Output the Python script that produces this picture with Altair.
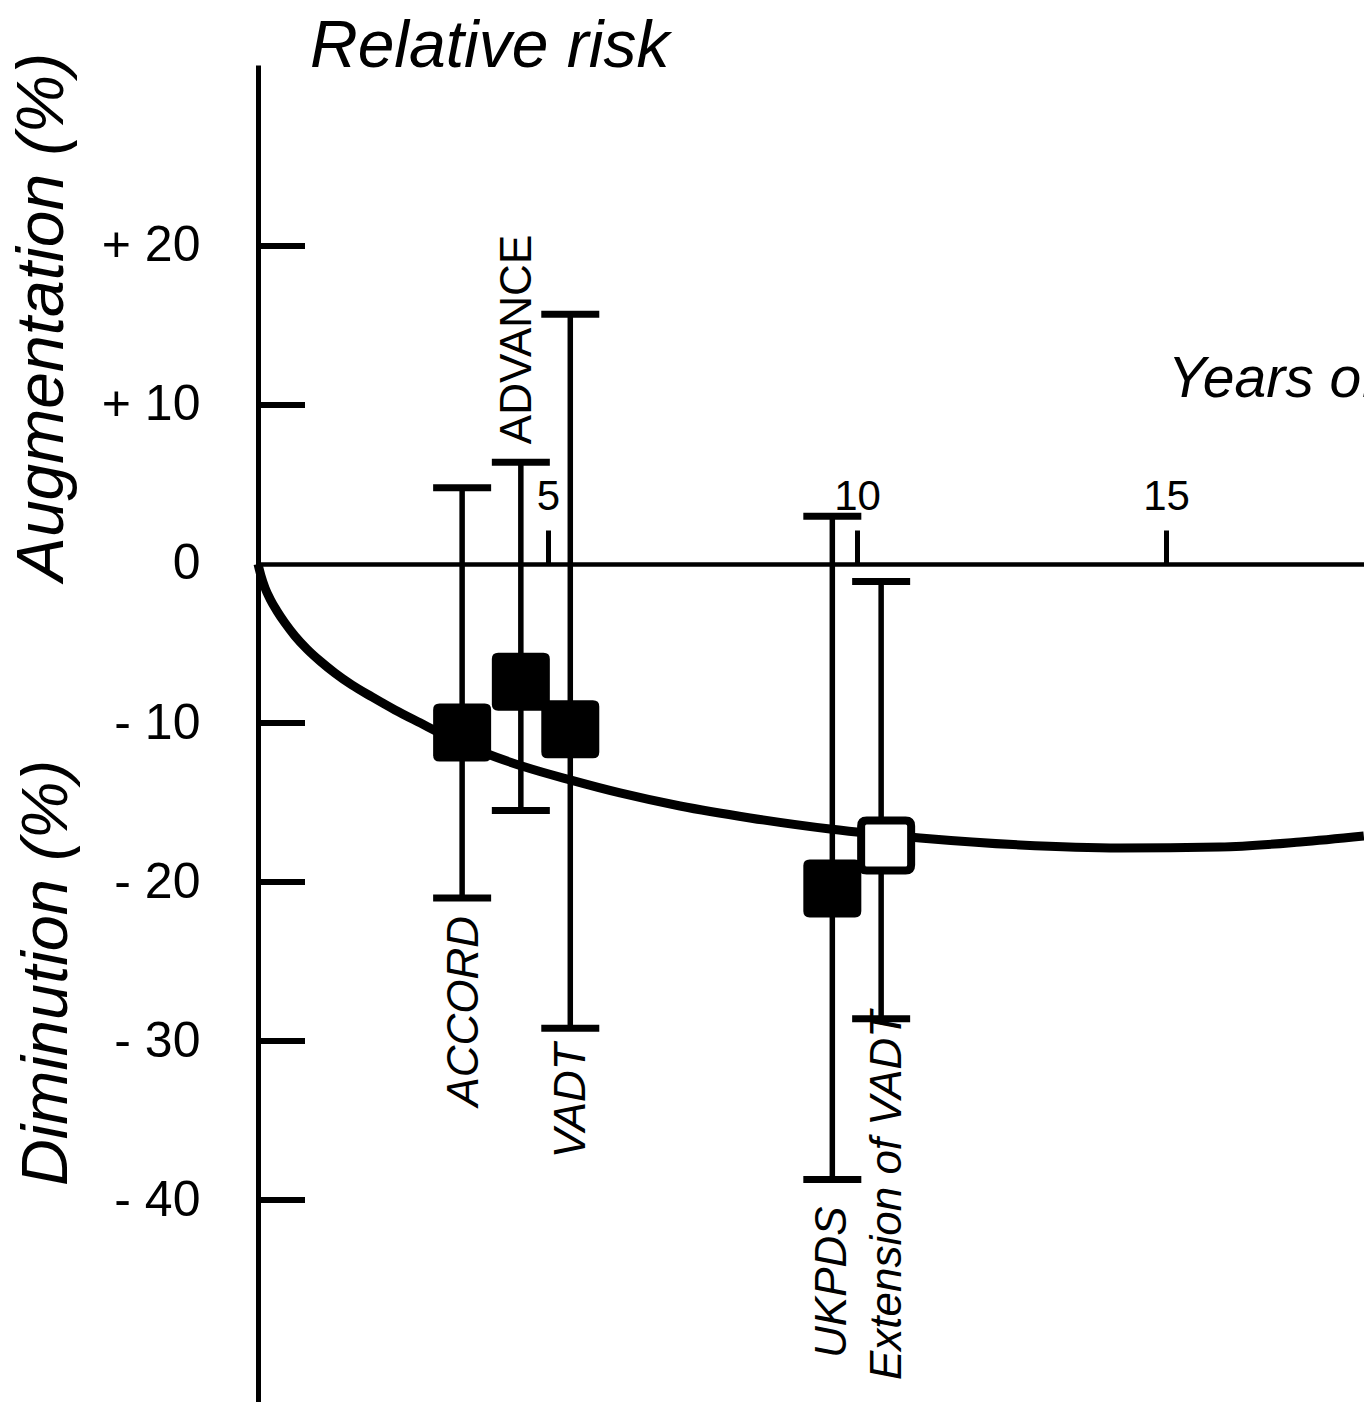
import altair as alt
import pandas as pd

# ---- data ----
studies = ["ACCORD", "ADVANCE", "VADT", "UKPDS", "Extension of VADT"]
study_years = [3.61, 4.56, 5.36, 9.60, 10.39]
rr_est = [-10.6, -7.4, -10.4, -20.4, -17.7]
rr_low = [-21.0, -15.5, -29.2, -38.7, -28.6]
rr_high = [4.8, 6.4, 15.7, 3.0, -1.1]
open_marker = [False, False, False, False, True]
label_side = ["below", "above", "below", "below", "below"]

curve_years = [0.307, 0.356, 0.421, 0.502, 0.615, 0.744, 0.906, 1.100, 1.311,
               1.553, 1.828, 2.152, 2.524, 2.929, 3.414, 3.981, 4.628, 5.356,
               6.165, 7.136, 8.269, 9.563, 11.02, 12.64, 14.26, 15.87, 17.17,
               18.20]
curve_rr = [0.0, -0.75, -1.51, -2.20, -2.96, -3.71, -4.53, -5.35, -6.10, -6.86,
            -7.61, -8.36, -9.18, -9.99, -10.94, -11.89, -12.77, -13.58, -14.40,
            -15.22, -15.97, -16.67, -17.23, -17.67, -17.86, -17.80, -17.48,
            -17.10]

y_tick_values = [20, 10, 0, -10, -20, -30, -40]
y_tick_marks = [20, 10, -10, -20, -30, -40]
x_tick_values = [5, 10, 15]

x_domain = [0.307, 18.203]
y_domain = [-52.7, 31.38]

FONT = "Liberation Sans"

studies_df = pd.DataFrame({
    "study": studies, "year": study_years, "est": rr_est,
    "lo": rr_low, "hi": rr_high, "open": open_marker, "side": label_side,
})
curve_df = pd.DataFrame({"year": curve_years, "rr": curve_rr})
ticks_df = pd.DataFrame({"v": y_tick_marks})

XS = alt.Scale(domain=x_domain, nice=False, zero=False)
YS = alt.Scale(domain=y_domain, nice=False, zero=False)

XAX = alt.Axis(orient="top", offset=-499, values=x_tick_values, tickSize=34,
               tickWidth=5, tickColor="black", domainColor="black", domainWidth=4.5,
               labelFontSize=42, labelFont=FONT, labelColor="black", labelPadding=12,
               labelFlush=False, grid=False, title=None, labelAngle=0)
YAX = alt.Axis(orient="left", values=y_tick_values, ticks=False, domainColor="black",
               domainWidth=5, labelFontSize=50, labelFont=FONT, labelColor="black",
               labelPadding=58, labelFlush=False, grid=False, title=None,
               labelExpr="datum.value > 0 ? '+ ' + datum.value : (datum.value < 0 ? '- ' + abs(datum.value) : '0')")


def X(f):
    return alt.X(f, type="quantitative", scale=XS, axis=XAX)


def Y(f):
    return alt.Y(f, type="quantitative", scale=YS, axis=YAX)


ROUNDED = ("M -0.78 -1 L 0.78 -1 Q 1 -1 1 -0.78 L 1 0.78 Q 1 1 0.78 1 "
           "L -0.78 1 Q -1 1 -1 0.78 L -1 -0.78 Q -1 -1 -0.78 -1 Z")

curve = alt.Chart(curve_df).mark_line(
    interpolate="monotone", strokeWidth=9, color="black"
).encode(x=X("year"), y=Y("rr"))

bars = alt.Chart(studies_df).mark_rule(strokeWidth=5.5, color="black").encode(
    x=X("year"), y=Y("lo"), y2="hi")

cap_lo = alt.Chart(studies_df).mark_tick(
    orient="horizontal", size=58, thickness=7, color="black", opacity=1
).encode(x=X("year"), y=Y("lo"))

cap_hi = alt.Chart(studies_df).mark_tick(
    orient="horizontal", size=58, thickness=7, color="black", opacity=1
).encode(x=X("year"), y=Y("hi"))

yticks = alt.Chart(ticks_df).mark_tick(
    orient="horizontal", size=47, thickness=6, color="black", opacity=1
).encode(x=alt.value(23.5), y=Y("v"))

filled_sq = alt.Chart(studies_df).transform_filter("!datum.open").mark_point(
    shape=ROUNDED, size=3364, filled=True, color="black", opacity=1
).encode(x=X("year"), y=Y("est"))

open_sq = alt.Chart(studies_df).transform_filter("datum.open").mark_point(
    shape=ROUNDED, size=2500, fill="white", stroke="black", strokeWidth=8,
    fillOpacity=1, opacity=1, filled=False, xOffset=5
).encode(x=X("year"), y=Y("est"))

# label offsets (pixels) from the end of each error bar
label_style = {
    "ACCORD": (3, 18),
    "VADT": (2, 15),
    "UKPDS": (1, 27),
    "Extension of VADT": (7, -8),
}
label_layers = []
for name, (dx, dy) in label_style.items():
    label_layers.append(
        alt.Chart(studies_df).transform_filter(alt.datum.study == name).mark_text(
            angle=270, align="right", baseline="middle", font=FONT, fontSize=44,
            fontStyle="italic", color="black", yOffset=dy, xOffset=dx
        ).encode(x=X("year"), y=Y("lo"), text="study:N")
    )

labels_above = alt.Chart(studies_df).transform_filter("datum.side == 'above'").mark_text(
    angle=270, align="left", baseline="middle", font=FONT, fontSize=44,
    color="black", yOffset=-18, xOffset=-3
).encode(x=X("year"), y=Y("hi"), text="study:N")


def annot(txt, x, y, size, angle=0, align="left", baseline="alphabetic"):
    kw = dict(align=align, baseline=baseline, font=FONT, fontSize=size,
              fontStyle="italic", color="black")
    if angle:
        kw["angle"] = angle
    return alt.Chart(pd.DataFrame({"t": [txt]})).mark_text(**kw).encode(
        x=alt.value(x), y=alt.value(y), text="t:N")


title_rr = annot("Relative risk", 52, 2, 66)
title_years = annot("Years of follow-up", 910, 332, 57)
title_aug = annot("Augmentation (%)", -195, 252, 66, angle=270, align="center")
title_dim = annot("Diminution (%)", -191, 908, 65, angle=270, align="center")

chart = alt.layer(
    curve, bars, cap_lo, cap_hi, yticks, filled_sq, open_sq,
    *label_layers, labels_above, title_rr, title_years, title_aug, title_dim
).properties(
    width=1106, height=1337,
    autosize=alt.AutoSizeParams(type="none"),
    padding={"left": 250, "top": 57, "right": 0, "bottom": 0},
    background="white",
).configure_view(strokeWidth=0)

chart.save("out.html", embed_options={"renderer": "svg", "actions": False})
